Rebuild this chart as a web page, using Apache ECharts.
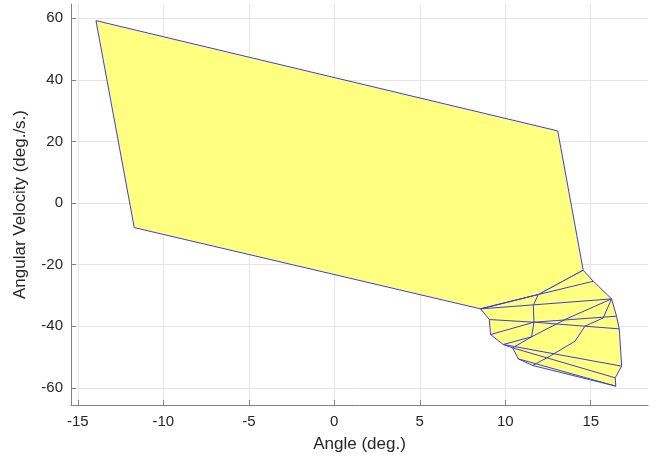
<!DOCTYPE html>
<html>
<head>
<meta charset="utf-8">
<script src="https://cdn.jsdelivr.net/npm/echarts@6/dist/echarts.min.js"></script>
<style>
  html, body { margin: 0; padding: 0; background: #fff; }
  #chart { width: 657px; height: 462px; }
</style>
</head>
<body>
<div id="chart"></div>
<script>
// tick values
const X_TICKS = [-15, -10, -5, 0, 5, 10, 15];
const Y_TICKS = [-60, -40, -20, 0, 20, 40, 60];

// first (large) set, [angle, angular velocity]
const BIG_SET = [
  [-13.94, 59.2], [13.07, 23.4], [14.56, -21.85],
  [11.93, -29.74], [8.56, -34.39], [-11.7, -8.0]
];

// outline of the small sets near the bottom right
const MESH_OUTLINE = [
  [14.56, -21.85], [15.15, -25.42], [16.22, -31.15], [16.51, -36.77],
  [16.67, -40.88], [16.81, -52.99], [16.43, -56.77], [16.47, -59.48],
  [11.6, -52.77], [10.76, -50.61], [10.43, -47.04], [9.88, -45.96],
  [9.14, -42.72], [9.07, -37.85], [8.56, -34.39], [11.93, -29.74]
];

// edges inside the small sets
const MESH_EDGES = [
  [[8.56, -34.39], [11.93, -29.74], [15.15, -25.42]],
  [[8.56, -34.39], [16.22, -31.15]],
  [[11.93, -29.74], [11.64, -33.31], [11.68, -38.72], [11.54, -43.47], [10.43, -47.04]],
  [[9.07, -37.85], [11.68, -38.72], [16.67, -40.88]],
  [[9.14, -42.72], [11.68, -38.72], [16.51, -36.77]],
  [[16.22, -31.15], [13.49, -37.85], [11.54, -43.47], [9.88, -45.96]],
  [[16.22, -31.15], [15.73, -37.31], [14.66, -40.02], [14.08, -44.88], [12.61, -49.75], [11.6, -52.77]],
  [[9.88, -45.96], [16.81, -52.99]],
  [[10.43, -47.04], [16.43, -56.77]],
  [[10.76, -50.61], [16.47, -59.48]]
];

const FILL = '#ffff80';
const EDGE = '#3c3ce0';
const FONT = 'Liberation Sans, Arial, sans-serif';

function polySeries(points) {
  return {
    type: 'custom',
    renderItem: function(params, api) {
      return {
        type: 'polygon',
        shape: { points: points.map(p => api.coord(p)) },
        style: { fill: FILL, stroke: EDGE, lineWidth: 1 }
      };
    },
    data: [0],
    silent: true,
    z: 2
  };
}

let series = [polySeries(BIG_SET), polySeries(MESH_OUTLINE)];
for (let edge of MESH_EDGES) {
  series.push({
    type: 'line',
    data: edge,
    symbol: 'none',
    lineStyle: { color: EDGE, width: 1 },
    silent: true,
    z: 3
  });
}

function axis(extra) {
  return echarts.util.merge({
    type: 'value',
    axisLine: { show: true, onZero: false, lineStyle: { color: '#808080', width: 1 } },
    axisTick: { show: true, inside: true, length: 5, lineStyle: { color: '#808080' } },
    axisLabel: { color: '#262626', fontSize: 15, fontFamily: FONT },
    splitLine: { show: true, lineStyle: { color: '#e6e6e6', width: 1 } },
    nameLocation: 'middle',
    nameTextStyle: { color: '#262626', fontSize: 17, fontFamily: FONT }
  }, extra, true);
}

let chart = echarts.init(document.getElementById('chart'), null, { renderer: 'canvas' });
chart.setOption({
  animation: false,
  grid: { left: 71, right: 9, top: 4, bottom: 57, containLabel: false },
  xAxis: axis({
    min: -15.4,
    max: 18.35,
    name: 'Angle (deg.)',
    nameGap: 31,
    axisTick: { customValues: X_TICKS },
    axisLabel: { customValues: X_TICKS, margin: 9 }
  }),
  yAxis: axis({
    min: -65.6,
    max: 64.6,
    name: 'Angular Velocity (deg./s.)',
    nameGap: 42,
    axisTick: { customValues: Y_TICKS },
    axisLabel: { customValues: Y_TICKS, margin: 8 }
  }),
  series: series
});
</script>
</body>
</html>
